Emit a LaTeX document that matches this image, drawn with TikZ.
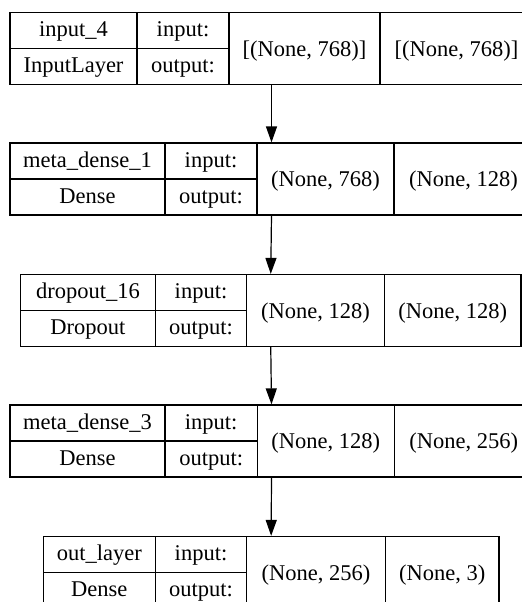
\documentclass[tikz,border=0pt]{standalone}
\usepackage{fontspec}
\setmainfont{Liberation Serif}
\usetikzlibrary{arrows.meta}

\begin{document}
\begin{tikzpicture}[x=0.5pt,y=-0.5pt,>={Triangle[length=8pt,width=5.5pt]},
    font=\fontsize{11.25}{13}\selectfont,
    layer/.style={draw,line width=0.6pt,inner sep=0pt,minimum height=36pt},
    sep/.style={line width=0.6pt},
    lab/.style={anchor=base,inner sep=0pt}]

\useasboundingbox (0,0) rectangle (522,602);

% Layers: number/top/column edges/name/class/input shape/output shape
\foreach \i/\t/\xa/\xb/\xc/\xd/\xe/\nm/\cls/\shin/\shout in {
    1/12.5/10/137/229/380/533/input\_4/InputLayer/{[(None, 768)]}/{[(None, 768)]},
    2/143/10/165/257/394/533/meta\_dense\_1/Dense/{(None, 768)}/{(None, 128)},
    3/274.5/20.5/155.3/246.7/384.3/521/dropout\_16/Dropout/{(None, 128)}/{(None, 128)},
    4/405/10/165/257.3/394.3/533/meta\_dense\_3/Dense/{(None, 128)}/{(None, 256)},
    5/536.5/43.3/155.3/246.7/385.3/499/out\_layer/Dense/{(None, 256)}/{(None, 3)}}{

    % Outer box
    \node[layer,minimum width={(\xe-\xa)*0.5pt}] (L\i)
        at ({(\xa+\xe)/2},\t+36) {};

    % Cell borders
    \draw[sep] (\xb,\t) -- (\xb,\t+72);
    \draw[sep] (\xc,\t) -- (\xc,\t+72);
    \draw[sep] (\xd,\t) -- (\xd,\t+72);
    \draw[sep] (\xa,\t+36) -- (\xc,\t+36);

    % Texts
    \node[lab] (L\i name) at ({(\xa+\xb)/2},\t+24) {\nm};
    \node[lab] (L\i cls)  at ({(\xa+\xb)/2},\t+60) {\cls};
    \node[lab] (L\i in)   at ({(\xb+\xc)/2},\t+24) {input:};
    \node[lab] (L\i out)  at ({(\xb+\xc)/2},\t+60) {output:};
    \node[lab] (L\i shin)  at ({(\xc+\xd)/2},\t+43.5) {\shin};
    \node[lab] (L\i shout) at ({(\xd+\xe)/2},\t+43.5) {\shout};
}

% Connections
\foreach \i/\j in {1/2,2/3,3/4,4/5}
    \draw[->,line width=0.6pt] (L\i.south) -- (L\j.north);

\end{tikzpicture}
\end{document}
